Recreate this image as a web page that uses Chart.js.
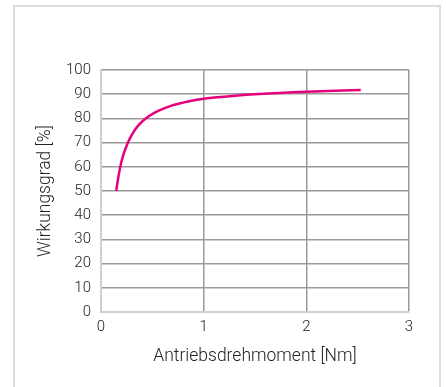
<!DOCTYPE html>
<html>
<head>
<meta charset="utf-8">
<script src="https://cdn.jsdelivr.net/npm/chart.js@4"></script>
<style>
  html, body { margin: 0; padding: 0; background: #fff; }
  #wrap { position: relative; width: 446px; height: 387px; }
  #frame { position: absolute; left: 13px; top: 5px; width: 428px; height: 400px; border: 2px solid #dcdcdc; box-sizing: border-box; }
  #wirkungsgrad { position: absolute; left: 0; top: 0; }
</style>
</head>
<body>
<div id="wrap">
  <div id="frame"></div>
  <canvas id="wirkungsgrad" width="446" height="387"></canvas>
</div>
<script>
// Wirkungsgrad über Antriebsdrehmoment
const torque = [0.148, 0.171, 0.203, 0.252, 0.30, 0.364, 0.445, 0.558, 0.687, 0.848, 1.0, 1.106, 1.28, 1.54, 2.0, 2.53];
const efficiency = [50, 56.2, 62.8, 69.0, 73.2, 77.1, 80.3, 83.1, 85.3, 87.0, 88.1, 88.6, 89.3, 90.1, 91.0, 91.7];
const xTicks = [0, 1, 2, 3];
const yTicks = [0, 10, 20, 30, 40, 50, 60, 70, 80, 90, 100];

const tickFont = { family: 'Roboto', size: 15, weight: '300' };
const titleFont = { family: 'Roboto', size: 17.5, weight: '300' };

new Chart(document.getElementById('wirkungsgrad').getContext('2d'), {
    type: 'line',
    data: {
        datasets: [{
            data: torque.map((t, i) => ({ x: t, y: efficiency[i] })),
            borderColor: '#e6007e',
            borderWidth: 2.5,
            pointRadius: 0,
            cubicInterpolationMode: 'monotone',
            fill: false
        }]
    },
    options: {
        responsive: false,
        animation: false,
        layout: { padding: { left: 0, top: 70, right: 37, bottom: 17 } },
        plugins: { legend: { display: false }, tooltip: { enabled: false } },
        scales: {
            x: {
                type: 'linear',
                min: 0,
                max: 3,
                afterBuildTicks: s => { s.ticks = xTicks.map(v => ({ value: v })); },
                afterFit: s => { s.height = 58; },
                grid: { color: '#9a9a9a', lineWidth: 1.5, drawTicks: false },
                border: { color: '#cfcfcf', width: 2 },
                ticks: { color: '#222', font: tickFont, padding: 6, maxRotation: 0 },
                title: { display: true, text: 'Antriebsdrehmoment [Nm]', color: '#222', font: titleFont, padding: { top: 4, bottom: 3 } }
            },
            y: {
                min: 0,
                max: 100,
                afterBuildTicks: s => { s.ticks = yTicks.map(v => ({ value: v })); },
                afterFit: s => { s.width = 101; },
                grid: { color: '#9a9a9a', lineWidth: 1.5, drawTicks: false },
                border: { color: '#cfcfcf', width: 2 },
                ticks: { color: '#222', font: tickFont, padding: 10 },
                title: { display: true, text: 'Wirkungsgrad [%]', color: '#222', font: titleFont, padding: { top: 35, bottom: 4 } }
            }
        }
    }
});
</script>
</body>
</html>
